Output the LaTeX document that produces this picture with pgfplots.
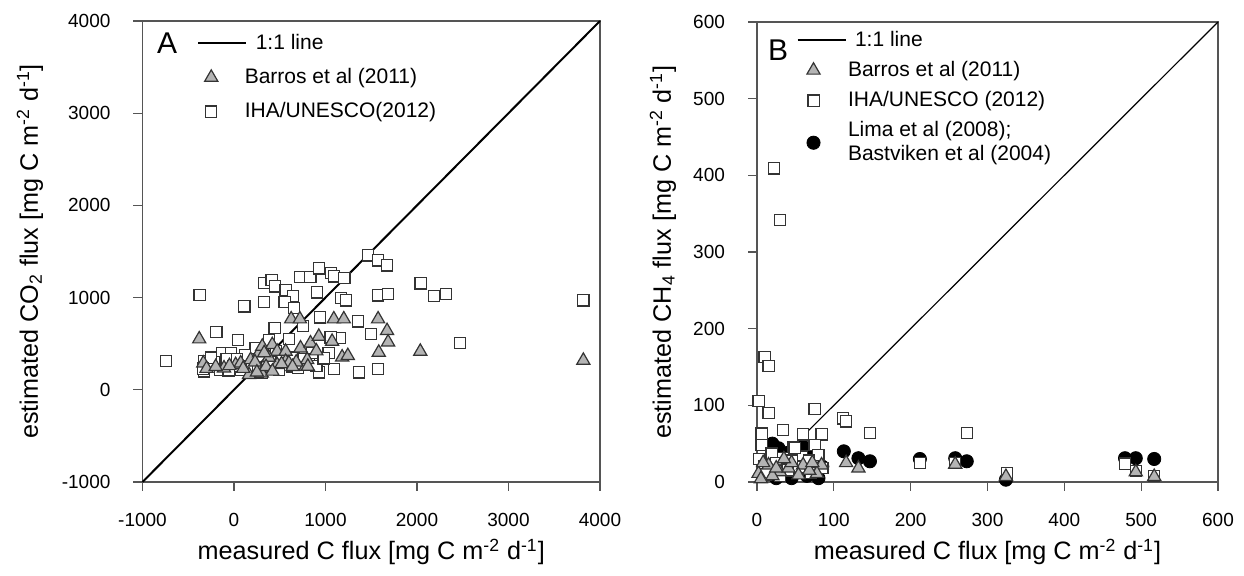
\documentclass[border=0pt]{standalone}
\usepackage{fontspec}
\setmainfont{Liberation Sans}
\usepackage{pgfplots}
\pgfplotsset{compat=1.18}

\definecolor{trifill}{HTML}{B4B4B4}
\definecolor{edge}{HTML}{333333}
\definecolor{axgray}{HTML}{555555}

\tikzset{
 sq/.style={only marks, mark=square*, mark size=2.8pt, mark options={fill=white, draw=edge, line width=0.6pt}},
 tri/.style={only marks, mark=triangle*, mark size=3.8pt, mark options={fill=trifill, draw=edge, line width=0.6pt}},
 circ/.style={only marks, mark=*, mark size=3.3pt, mark options={fill=black, draw=black}},
}

\pgfplotsset{
 lineimg/.style={legend image code/.code={\path[draw=none, fill=none] (0pt,-1pt) rectangle (5pt,1pt); \draw[##1, overlay] (0pt,0pt) -- (24pt,0pt);}},
 markimgA/.style={legend image code/.code={\path[draw=none, fill=none] (0pt,-1pt) rectangle (21.25pt,1pt); \draw[##1, only marks] plot coordinates {(6.5pt,0pt)};}},
 markimgB/.style={legend image code/.code={\path[draw=none, fill=none] (0pt,-1pt) rectangle (23.25pt,1pt); \draw[##1, only marks] plot coordinates {(8pt,0pt)};}},
 myaxis/.style={
  scale only axis, clip=false,
  axis line style={axgray, line width=0.6pt},
  tick style={axgray, line width=0.6pt},
  tick align=outside, tick pos=left, major tick length=4.5pt,
  ticklabel style={font=\fontsize{9.5}{11}\selectfont},
  /pgf/number format/assume math mode=true,
  /pgf/number format/1000 sep={},
  label style={font=\fontsize{12.6}{14}\selectfont},
  xticklabel style={yshift=-7.5pt},
  yticklabel style={xshift=-8pt},
  legend cell align=left,
  legend style={draw=none, fill=none, inner sep=0pt,
    font=\fontsize{10.5}{12}\selectfont, row sep=4pt,
    cells={align=left}},
 },
}

\pgfplotstableread{
x y
-745 315
-375 1027
-193 626
44 542
113 904
327 951
327 1157
411 1193
447 1121
564 1078
644 1013
553 951
655 886
720 1222
836 1222
927 1316
909 1056
1062 1266
1091 1230
1207 1212
1171 995
1225 969
1462 1457
1575 1403
1673 1349
1575 1024
1684 1042
2040 1154
2185 1020
2316 1042
3818 969
2469 506
938 785
753 694
444 669
1353 741
1498 604
1156 560
1055 568
600 550
927 188
1091 224
1364 188
1575 224
1029 398
818 307
-327 307
-327 199
-127 398
-36 398
236 456
382 542
1036 398
636 253
491 217
73 217
309 181
-300 250
-220 300
-150 220
-80 330
-10 260
150 300
200 230
400 320
550 300
650 350
850 400
760 330
900 260
-250 350
120 380
460 420
980 340
-340 230
-60 210
30 330
260 200
520 380
700 240
}\sqA

\pgfplotstableread{
x y
-380 550
-335 289
-109 235
18 271
73 289
164 163
182 325
273 398
291 217
302 181
309 470
418 488
472 416
564 416
472 271
564 307
600 289
727 452
782 253
800 325
836 506
927 578
1072 524
625 767
720 767
1091 767
1200 767
1575 767
1673 640
1684 517
1582 405
2036 416
3818 318
1182 354
1244 369
807 253
-300 230
-200 250
-50 260
100 230
230 300
380 350
520 280
680 300
350 250
250 190
420 200
640 250
900 420
330 400
}\triA

\pgfplotstableread{
x y
22 409
30 342
10 163
15 151
2 106
15 90
75 95
34 68
112 83
116 79
60 62
84 62
6 63
147 64
273 64
6 48
47 46
75 48
58 33
80 35
34 31
19 37
49 44
212 25
258 25
325 12
479 24
493 14
517 8
3 30
10 20
25 25
40 15
55 20
68 28
85 18
12 10
30 8
70 12
45 28
}\sqB

\pgfplotstableread{
x y
113 40
132 31
147 27
212 30
258 31
273 27
479 31
493 31
517 30
324 3
28 44
60 46
20 50
40 38
55 25
70 35
10 15
25 5
45 5
65 8
80 5
85 20
15 30
35 20
}\circB

\pgfplotstableread{
x y
116 25
132 18
258 23
324 7
493 13
517 7
84 22
60 22
15 22
2 11
30 13
41 18
54 9
78 11
8 25
20 8
45 25
68 15
35 30
5 4
25 18
72 25
}\triB

\begin{document}
\begin{tikzpicture}
\path[use as bounding box] (0pt,0pt) rectangle (622pt,288pt);

% Panel A
\begin{axis}[myaxis,
  at={(71.25pt,47pt)}, anchor=south west,
  width=228.75pt, height=230.5pt,
  xmin=-1000, xmax=4000, ymin=-1000, ymax=4000,
  xtick={-1000,0,1000,2000,3000,4000},
  ytick={-1000,0,1000,2000,3000,4000},
  xlabel={measured C flux [mg C m\textsuperscript{-2} d\textsuperscript{-1}]},
  ylabel={estimated CO\textsubscript{2} flux [mg C m\textsuperscript{-2} d\textsuperscript{-1}]},
  xlabel style={at={(axis description cs:0.5,-0.152)}, anchor=center},
  ylabel style={at={(axis description cs:-0.246,0.5)}, anchor=center},
  legend style={at={(axis description cs:0.121,0.981)}, anchor=north west},
]
\addlegendimage{black, line width=1pt, lineimg}
\addlegendentry{\hspace*{5.5pt}1:1 line}
\addlegendimage{tri, markimgA}
\addlegendentry{Barros et al (2011)}
\addlegendimage{sq, markimgA}
\addlegendentry{IHA/UNESCO(2012)}

\addplot[sq, forget plot] table {\sqA};
\addplot[tri, forget plot] table {\triA};
\addplot[black, line width=1pt, forget plot] coordinates {(-1000,-1000) (4000,4000)};
\node[font=\fontsize{15}{18}\selectfont] at (axis description cs:0.054,0.952) {A};
\end{axis}

% Panel B
\begin{axis}[myaxis,
  at={(378.5pt,47pt)}, anchor=south west,
  width=230.5pt, height=230pt,
  xmin=0, xmax=600, ymin=0, ymax=600,
  xtick={0,100,200,300,400,500,600},
  ytick={0,100,200,300,400,500,600},
  xlabel={measured C flux [mg C m\textsuperscript{-2} d\textsuperscript{-1}]},
  ylabel={estimated CH\textsubscript{4} flux [mg C m\textsuperscript{-2} d\textsuperscript{-1}]},
  xlabel style={at={(axis description cs:0.5,-0.152)}, anchor=center},
  ylabel style={at={(axis description cs:-0.204,0.5)}, anchor=center},
  legend style={at={(axis description cs:0.087,0.99)}, anchor=north west, row sep=2pt},
]
\addlegendimage{black, line width=0.6pt, lineimg}
\addlegendentry{\hspace*{3.5pt}1:1 line}
\addlegendimage{tri, markimgB}
\addlegendentry{Barros et al (2011)}
\addlegendimage{sq, markimgB}
\addlegendentry{IHA/UNESCO (2012)}
\addlegendimage{circ, markimgB}
\addlegendentry{Lima et al (2008);\\Bastviken et al (2004)}

\addplot[circ, forget plot] table {\circB};
\addplot[sq, forget plot] table {\sqB};
\addplot[tri, forget plot] table {\triB};
\addplot[black, line width=0.6pt, forget plot] coordinates {(0,0) (600,600)};
\node[font=\fontsize{15}{18}\selectfont] at (axis description cs:0.046,0.939) {B};
\end{axis}
\end{tikzpicture}
\end{document}
